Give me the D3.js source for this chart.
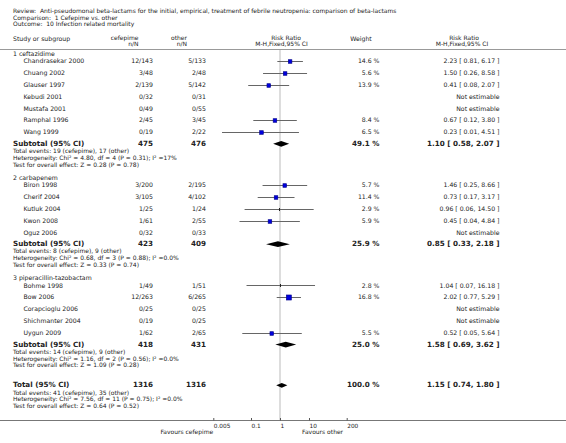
<!DOCTYPE html>
<html><head><meta charset="utf-8">
<script src="https://cdn.jsdelivr.net/npm/d3@7"></script>
<style>
html,body{margin:0;padding:0;background:#fff;}
text{font-family:"DejaVu Sans",Verdana,sans-serif;fill:#222;}
</style></head>
<body><svg id="c" width="566" height="443"></svg>
<script>
// ---------- data ----------
const titleLines = [
  "Review:\u00a0 Anti-pseudomonal beta-lactams for the initial, empirical, treatment of febrile neutropenia: comparison of beta-lactams",
  "Comparison:\u00a0 1 Cefepime vs. other",
  "Outcome:\u00a0 10 Infection related mortality"
];
const groupNames = ["1 ceftazidime", "2 carbapenem", "3 piperacillin-tazobactam"];
const studyGroup = [0,0,0,0,0,0,0, 1,1,1,1,1, 2,2,2,2,2];
const studyNames = ["Chandrasekar 2000","Chuang 2002","Glauser 1997","Kebudi 2001","Mustafa 2001","Ramphal 1996","Wang 1999",
  "Biron 1998","Cherif 2004","Kutluk 2004","Kwon 2008","Oguz 2006",
  "Bohme 1998","Bow 2006","Corapcioglu 2006","Shichmanter 2004","Uygun 2009"];
const cefepimeNN = ["12/143","3/48","2/139","0/32","0/49","2/45","0/19",
  "3/200","3/105","1/25","1/61","0/32",
  "1/49","12/263","0/25","0/19","1/62"];
const otherNN = ["5/133","2/48","5/142","0/31","0/55","3/45","2/22",
  "2/195","4/102","1/24","2/55","0/33",
  "1/51","6/265","0/25","0/25","2/65"];
const weights = [14.6,5.6,13.9,null,null,8.4,6.5, 5.7,11.4,2.9,5.9,null, 2.8,16.8,null,null,5.5];
const rr    = [2.23,1.50,0.41,null,null,0.67,0.23, 1.46,0.73,0.96,0.45,null, 1.04,2.02,null,null,0.52];
const lower = [0.81,0.26,0.08,null,null,0.12,0.01, 0.25,0.17,0.06,0.04,null, 0.07,0.77,null,null,0.05];
const upper = [6.17,8.58,2.07,null,null,3.80,4.51, 8.66,3.17,14.50,4.84,null, 16.18,5.29,null,null,5.64];

const subN1 = ["475","423","418"];
const subN2 = ["476","409","431"];
const subWeight = ["49.1 %","25.9 %","25.0 %"];
const subRR = [1.10, 0.85, 1.58];
const subLo = [0.58, 0.33, 0.69];
const subHi = [2.07, 2.18, 3.62];
const subStats = [
  ["Total events: 19 (cefepime), 17 (other)","Heterogeneity: Chi\u00b2 = 4.80, df = 4 (P = 0.31); I\u00b2 =17%","Test for overall effect: Z = 0.28 (P = 0.78)"],
  ["Total events: 8 (cefepime), 9 (other)","Heterogeneity: Chi\u00b2 = 0.68, df = 3 (P = 0.88); I\u00b2 =0.0%","Test for overall effect: Z = 0.33 (P = 0.74)"],
  ["Total events: 14 (cefepime), 9 (other)","Heterogeneity: Chi\u00b2 = 1.16, df = 2 (P = 0.56); I\u00b2 =0.0%","Test for overall effect: Z = 1.09 (P = 0.28)"]
];
const totalN = ["1316","1316"];
const totalWeight = "100.0 %";
const totalRR = [1.15, 0.74, 1.80];
const totalStats = ["Total events: 41 (cefepime), 35 (other)","Heterogeneity: Chi\u00b2 = 7.56, df = 11 (P = 0.75); I\u00b2 =0.0%","Test for overall effect: Z = 0.64 (P = 0.52)"];
const tickValues = [0.005, 0.1, 1, 10, 200];
const tickLabels = ["0.005","0.1","1","10","200"];
const favours = ["Favours cefepime","Favours other"];

// ---------- layout ----------
const W = 566, H = 443;
const svg = d3.select("#c");
const x = d3.scaleLog().domain([0.005, 200]).range([213.3, 346.7]);
const FS = 6.2, FSB = 7.2, FSH = 6.0;
const colStudy = 13, colStudyIndent = 23.5, colN1 = 153, colN2 = 206, colW = 379.5, colRR = 499.5;
const axisY = 420;

function txt(t, xx, yy, opt = {}) {
  return svg.append("text").attr("x", xx).attr("y", yy).attr("dy", "0.36em")
    .attr("font-size", opt.size || FS).attr("font-weight", opt.bold ? "bold" : null)
    .attr("text-anchor", opt.anchor || "start").text(t);
}
function fmtCI(a, b, c) {
  return a.toFixed(2) + " [ " + b.toFixed(2) + ", " + c.toFixed(2) + " ]";
}

// title
titleLines.forEach((t, i) => txt(t, colStudy, 10.5 + i * 6.9, {size: 6.0}));

// header
const h1 = 37.6, h2 = 44.3;
txt("Study or subgroup", colStudy, 38.4);
txt("cefepime", 138.5, h1, {anchor: "end", size: FSH});
txt("n/N", 138.5, h2, {anchor: "end", size: FSH});
txt("other", 187, h1, {anchor: "end", size: FSH});
txt("n/N", 187, h2, {anchor: "end", size: FSH});
txt("Risk Ratio", 286, h1, {anchor: "middle", size: FSH});
txt("M-H,Fixed,95% CI", 281.5, h2, {anchor: "middle", size: FSH});
txt("Weight", 361, 38.4, {anchor: "middle"});
txt("Risk Ratio", 464, h1, {anchor: "middle", size: FSH});
txt("M-H,Fixed,95% CI", 462, h2, {anchor: "middle", size: FSH});
svg.append("line").attr("x1", 0).attr("x2", W).attr("y1", 49.5).attr("y2", 49.5)
  .attr("stroke", "#999").attr("stroke-width", 1);

// vertical no-effect line
svg.append("line").attr("x1", x(1)).attr("x2", x(1)).attr("y1", 50).attr("y2", axisY)
  .attr("stroke", "#ddd").attr("stroke-width", 2);

// compute row positions
let y = 53.5;
const rowsY = [];
const subY = [];
const groupY = [];
groupNames.forEach((g, gi) => {
  groupY.push(y);
  const idx = studyGroup.map((s, i) => s === gi ? i : -1).filter(i => i >= 0);
  y += 7.2;
  idx.forEach((i, k) => { if (k > 0) y += 11.9; rowsY[i] = y; });
  y += 11.3;
  const sy = y;
  y += 7.5; const s1 = y; y += 6.9; const s2 = y; y += 6.6; const s3 = y;
  subY.push({y: sy, stats: [s1, s2, s3]});
  y += 13.3;
});
const totY = subY[2].stats[2] + 19.7;
const totStatsY = [totY + 7.5, totY + 14.4, totY + 21.0];

// groups
groupNames.forEach((g, gi) => txt(g, colStudy, groupY[gi]));

// studies
studyNames.forEach((name, i) => {
  const yy = rowsY[i];
  txt(name, colStudyIndent, yy);
  txt(cefepimeNN[i], colN1, yy, {anchor: "end"});
  txt(otherNN[i], colN2, yy, {anchor: "end"});
  if (weights[i] != null) {
    txt(weights[i].toFixed(1) + " %", colW, yy, {anchor: "end"});
    txt(fmtCI(rr[i], lower[i], upper[i]), colRR, yy, {anchor: "end"});
    const ly = Math.round(yy) + 0.5;
    svg.append("line").attr("x1", x(lower[i])).attr("x2", x(upper[i]))
      .attr("y1", ly).attr("y2", ly).attr("stroke", "#666").attr("stroke-width", 1);
    if (weights[i] < 3) {
      svg.append("line").attr("x1", x(rr[i])).attr("x2", x(rr[i]))
        .attr("y1", ly - 1.5).attr("y2", ly + 1.5).attr("stroke", "#222").attr("stroke-width", 1);
    } else {
      const s = 3.6 + Math.max(0, weights[i] - 15) * 0.8;
      svg.append("rect").attr("x", x(rr[i]) - s / 2).attr("y", ly - s / 2)
        .attr("width", s).attr("height", s).attr("fill", "#0000dd")
        .attr("stroke", "#000088").attr("stroke-width", 0.6);
    }
  } else {
    txt("Not estimable", colRR, yy, {anchor: "end"});
  }
});

function diamond(c, lo, hi, yy, hh) {
  const pts = [[x(lo), yy], [x(c), yy - hh], [x(hi), yy], [x(c), yy + hh]];
  svg.append("polygon").attr("points", pts.map(p => p.join(",")).join(" ")).attr("fill", "#000");
}

// subtotals
groupNames.forEach((g, gi) => {
  const yy = subY[gi].y;
  txt("Subtotal (95% CI)", colStudy, yy, {bold: true, size: FSB});
  txt(subN1[gi], colN1, yy, {bold: true, size: FSB, anchor: "end"});
  txt(subN2[gi], colN2, yy, {bold: true, size: FSB, anchor: "end"});
  txt(subWeight[gi], colW, yy, {bold: true, size: FSB, anchor: "end"});
  txt(fmtCI(subRR[gi], subLo[gi], subHi[gi]), colRR, yy, {bold: true, size: FSB, anchor: "end"});
  diamond(subRR[gi], subLo[gi], subHi[gi], yy + 0.4, 2.9);
  subStats[gi].forEach((s, k) => txt(s, colStudy, subY[gi].stats[k], {size: 6.0}));
});

// total
txt("Total (95% CI)", colStudy, totY, {bold: true, size: FSB});
txt(totalN[0], colN1, totY, {bold: true, size: FSB, anchor: "end"});
txt(totalN[1], colN2, totY, {bold: true, size: FSB, anchor: "end"});
txt(totalWeight, colW, totY, {bold: true, size: FSB, anchor: "end"});
txt(fmtCI(totalRR[0], totalRR[1], totalRR[2]), colRR, totY, {bold: true, size: FSB, anchor: "end"});
diamond(totalRR[0], totalRR[1], totalRR[2], totY + 0.4, 2.4);
totalStats.forEach((s, k) => txt(s, colStudy, totStatsY[k], {size: 6.0}));

// axis
svg.append("line").attr("x1", 0).attr("x2", W).attr("y1", axisY + 0.5).attr("y2", axisY + 0.5)
  .attr("stroke", "#777").attr("stroke-width", 1);
const axis = d3.axisBottom(x).tickValues(tickValues)
  .tickFormat((d, i) => tickLabels[i]).tickSizeInner(-2.5).tickSizeOuter(0).tickPadding(5);
const ag = svg.append("g").attr("transform", `translate(0,${axisY + 0.5})`).call(axis);
ag.select(".domain").remove();
ag.selectAll(".tick line").attr("stroke", "#555");
ag.selectAll(".tick text").attr("text-anchor", "start").attr("font-size", 5.8)
  .attr("font-family", "DejaVu Sans, Verdana, sans-serif").attr("fill", "#222").attr("dy", "0.5em");
txt(favours[0], x(0.005), 432, {anchor: "end", size: 6});
txt(favours[1], 302, 432, {size: 6});
</script></body></html>
